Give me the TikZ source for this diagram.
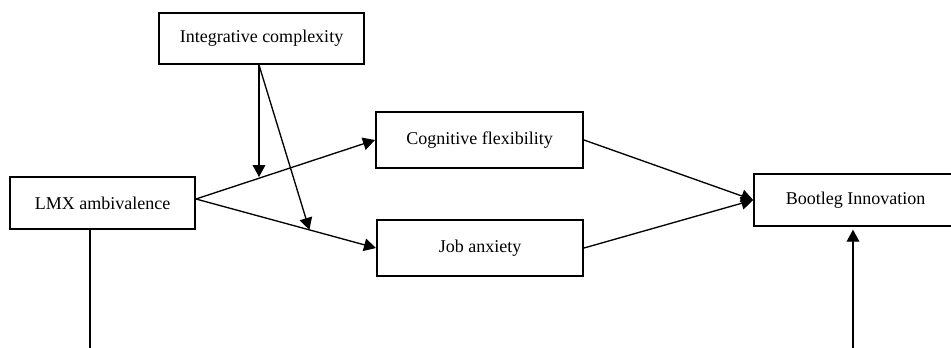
\documentclass[tikz,border=0pt]{standalone}
\usepackage{fontspec}
\setmainfont{Liberation Serif}
\usetikzlibrary{arrows.meta,calc}
\tikzstyle{every node}=[font=\fontsize{13.5}{16}\selectfont]
\tikzstyle{var}=[draw,line width=1.5pt,inner sep=0pt]
\tikzstyle{link}=[line width=1pt,-{Triangle[length=9pt,width=9.5pt]}]

\begin{document}
\begin{tikzpicture}[x=0.75pt,y=-0.75pt]
\useasboundingbox (0,0) rectangle (951,347);
\clip (0,0) rectangle (951,347);
\node[var,minimum width=153.75pt,minimum height=38.25pt] (ic) at (261.5,38.5) {Integrative complexity};
\node[var,minimum width=138.75pt,minimum height=39pt] (lmx) at (102.5,203) {LMX ambivalence};
\node[var,minimum width=155.25pt,minimum height=42pt] (cog) at (479.5,140) {Cognitive flexibility};
\node[var,minimum width=154.5pt,minimum height=42pt] (job) at (480,248) {Job anxiety};
\node[var,minimum width=152pt,minimum height=39pt] (boot) at (855.5,200) {Bootleg Innovation};
\coordinate (lmxout) at ([yshift=3pt]lmx.east);
\draw[link] (lmxout) -- (cog.west);
\draw[link] (lmxout) -- (job.west);
\coordinate (m1) at ($(lmxout)!0.35!(cog.west)$);
\coordinate (m2) at ($(lmxout)!0.63!(job.west)$);
\coordinate (icout) at (259,38.5);
\draw[link,shorten >=1pt] (icout |- ic.south) -- (icout |- m1);
\draw[link] (icout |- ic.south) -- (m2);
\draw[link] (cog.east) -- (boot.west);
\draw[link] (job.east) -- (boot.west);
\coordinate (lmxdown) at (90,360);
\draw[line width=1pt] (lmx.south -| lmxdown) -- (lmxdown);
\coordinate (bootup) at (853,360);
\draw[link,shorten >=2pt] (bootup) -- (bootup |- boot.south);
\end{tikzpicture}
\end{document}
